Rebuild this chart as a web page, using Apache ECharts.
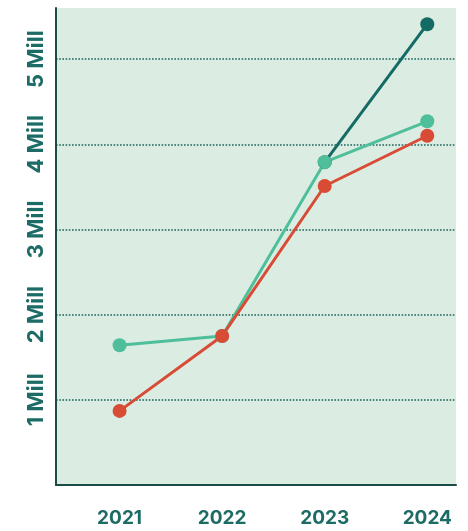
<!DOCTYPE html>
<html>
<head>
<meta charset="utf-8">
<script src="https://cdn.jsdelivr.net/npm/echarts@6/dist/echarts.min.js"></script>
<style>
  html, body { margin: 0; padding: 0; background: #ffffff; }
  #main { width: 468px; height: 531px; }
</style>
</head>
<body>
<div id="main"></div>
<script>
// years on the x axis
const years = [2021, 2022, 2023, 2024];
// y axis tick values (millions) and their labels
const yTicks = [1, 2, 3, 4, 5];
const yTickLabels = ['1 Mill', '2 Mill', '3 Mill', '4 Mill', '5 Mill'];

// series values in millions (dark line only shows from 2023 on)
const darkValues = [null, null, 3.79, 5.41];
const greenValues = [1.64, 1.75, 3.79, 4.27];
const redValues = [0.87, 1.75, 3.51, 4.10];

const colors = {
    dark: '#146b63',
    green: '#4fbf9b',
    red: '#d84b35',
    text: '#1c6b64',
    axis: '#1b4a47',
    grid: '#1a625c',
    bg: '#dbece3'
};

const toPoints = (vals) => vals.map((v, i) => [years[i], v]);

const makeSeries = (name, vals, color) => ({
    name,
    type: 'line',
    data: toPoints(vals),
    symbol: 'circle',
    symbolSize: 14,
    lineStyle: { width: 3, color },
    itemStyle: { color },
    emphasis: { disabled: true },
    animation: false
});

const labelFont = {
    color: colors.text,
    fontFamily: 'Inter',
    fontWeight: 'bold'
};

const chart = echarts.init(document.getElementById('main'));

chart.setOption({
    animation: false,
    grid: {
        left: 56,
        right: 12,
        top: 8,
        bottom: 46,
        show: true,
        backgroundColor: colors.bg,
        borderWidth: 0
    },
    xAxis: {
        type: 'value',
        min: 2020.38,
        max: 2024.28,
        axisLine: { show: true, lineStyle: { color: colors.axis, width: 2 } },
        axisTick: { show: false, customValues: years },
        splitLine: { show: false },
        axisLabel: Object.assign({
            customValues: years,
            formatter: (v) => String(v),
            fontSize: 19,
            margin: 24
        }, labelFont)
    },
    yAxis: {
        type: 'value',
        min: 0,
        max: 5.6,
        axisLine: { show: true, lineStyle: { color: colors.axis, width: 2 } },
        axisTick: { show: false, customValues: yTicks },
        splitLine: {
            show: true,
            lineStyle: { color: colors.grid, width: 1.6, type: [1.6, 1.6] }
        },
        axisLabel: Object.assign({
            customValues: yTicks,
            formatter: (v) => yTickLabels[yTicks.indexOf(v)] || '',
            rotate: 90,
            fontSize: 22,
            margin: 9
        }, labelFont)
    },
    series: [
        makeSeries('dark', darkValues, colors.dark),
        makeSeries('green', greenValues, colors.green),
        makeSeries('red', redValues, colors.red)
    ]
});
</script>
</body>
</html>
